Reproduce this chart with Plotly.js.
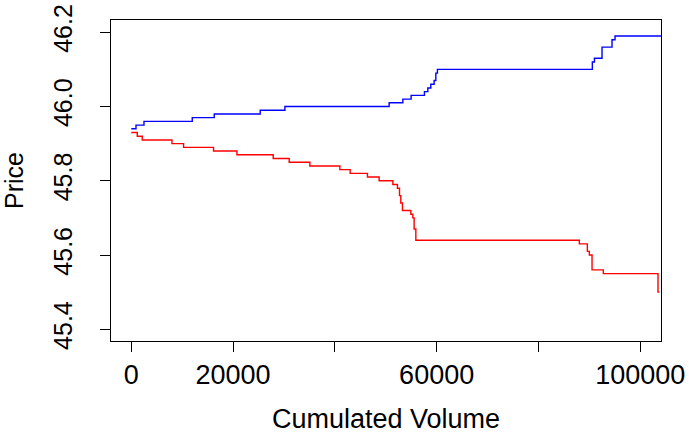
<!DOCTYPE html>
<html>
<head>
<meta charset="utf-8">
<script src="https://cdn.plot.ly/plotly-3.0.1.min.js"></script>
<style>html,body{margin:0;padding:0;background:#fff;}#chart{width:689px;height:434px;}</style>
</head>
<body>
<div id="chart"></div>
<script>
const askVolume = [0, 923, 2494, 11978, 16299, 25332, 30183, 50663, 53354, 54984, 57595, 58263, 58852, 59500, 59834, 60148, 90585, 91000, 92490, 94454, 95043, 104076];
const askPrice  = [45.94, 45.95, 45.96, 45.97, 45.98, 45.99, 46.00, 46.01, 46.02, 46.03, 46.04, 46.05, 46.06, 46.07, 46.09, 46.10, 46.12, 46.13, 46.16, 46.18, 46.19, 46.19];
const bidVolume = [0, 1178, 2160, 7992, 10270, 16161, 20756, 27885, 31027, 35091, 40983, 43005, 46403, 48700, 51390, 52294, 52700, 52950, 53275, 54925, 55317, 55573, 55907, 88033, 89604, 89997, 90527, 92746, 103488, 103743];
const bidPrice  = [45.93, 45.92, 45.91, 45.90, 45.89, 45.88, 45.87, 45.86, 45.85, 45.84, 45.83, 45.82, 45.81, 45.80, 45.79, 45.78, 45.76, 45.74, 45.72, 45.71, 45.70, 45.67, 45.64, 45.63, 45.61, 45.60, 45.56, 45.55, 45.50, 45.50];
const xTickVals = [0, 20000, 40000, 60000, 80000, 100000];
const xTickText = ["0", "20000", "", "60000", "", "100000"];
const yTickVals = [45.4, 45.6, 45.8, 46.0, 46.2];
const yTickText = ["45.4", "45.6", "45.8", "46.0", "46.2"];

const fam = "Liberation Sans, Arial, sans-serif";
const xFont = {family: fam, size: 27, color: "#000"};
const yFont = {family: fam, size: 25, color: "#000"};
const traces = [
  {x: askVolume, y: askPrice, type: "scatter", mode: "lines", line: {color: "#0000ff", width: 1.4, shape: "hv"}, hoverinfo: "skip"},
  {x: bidVolume, y: bidPrice, type: "scatter", mode: "lines", line: {color: "#ff0000", width: 1.4, shape: "hv"}, hoverinfo: "skip"}
];
const layout = {
  width: 689, height: 434,
  margin: {l: 110.7, r: 28, t: 20, b: 93, pad: 0},
  paper_bgcolor: "#fff", plot_bgcolor: "#fff",
  showlegend: false,
  font: yFont,
  xaxis: {
    range: [-3986, 104076], showgrid: false, zeroline: false,
    showline: true, mirror: true, linecolor: "#000", linewidth: 1,
    ticks: "outside", ticklen: 10, tickwidth: 1, tickcolor: "#000",
    tickvals: xTickVals, ticktext: xTickText, tickfont: xFont,
    title: {text: "Cumulated Volume", font: xFont, standoff: 27}
  },
  yaxis: {
    range: [45.3685, 46.233], showgrid: false, zeroline: false,
    showline: true, mirror: true, linecolor: "#000", linewidth: 1,
    ticks: "outside", ticklen: 10, tickwidth: 1, tickcolor: "#000",
    tickvals: yTickVals, ticktext: yTickText, tickfont: yFont, tickangle: -90,
    ticklabelstandoff: 18,
    title: {text: "Price", font: yFont, standoff: 18}
  }
};
Plotly.newPlot("chart", traces, layout, {staticPlot: true, displayModeBar: false});
</script>
</body>
</html>
